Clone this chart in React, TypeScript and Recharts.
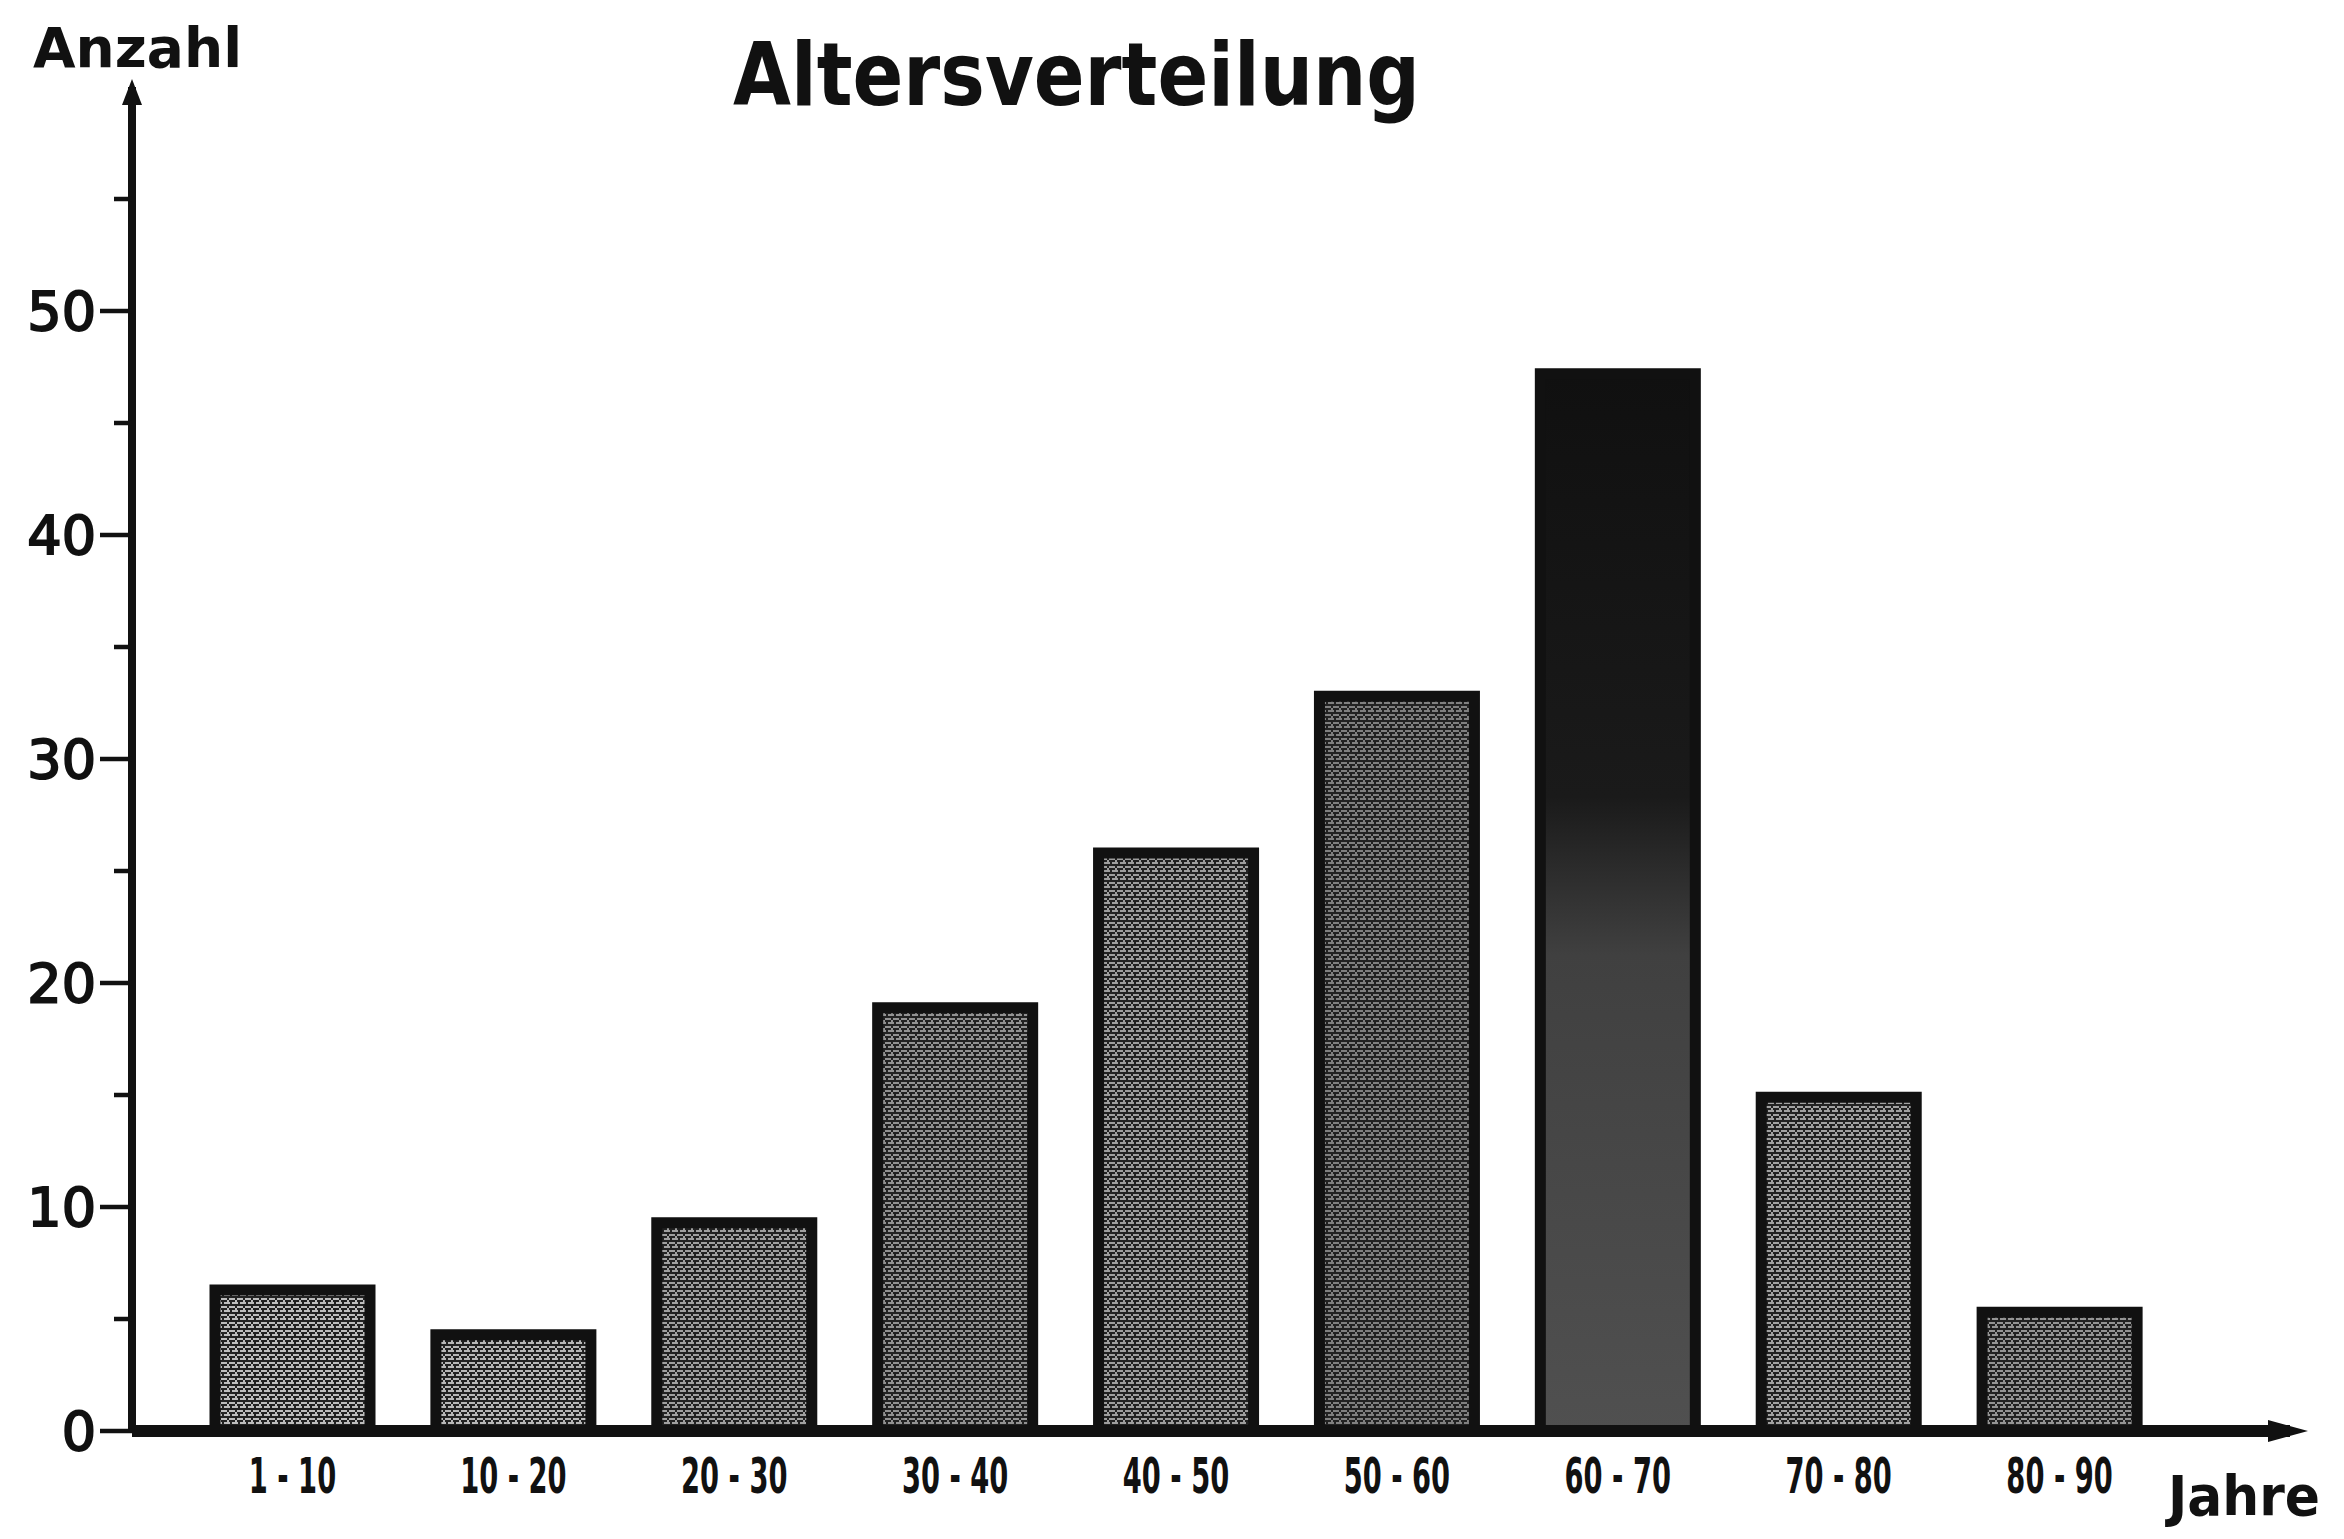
import { BarChart, Bar, XAxis, YAxis, Cell } from "recharts"

// Altersverteilung – Anzahl pro Altersgruppe
const ageGroups = ["1 - 10", "10 - 20", "20 - 30", "30 - 40", "40 - 50", "50 - 60", "60 - 70", "70 - 80", "80 - 90"]
const counts = [6.3, 4.3, 9.3, 18.9, 25.8, 32.8, 47.2, 14.9, 5.3]
const yTicks = [0, 5, 10, 15, 20, 25, 30, 35, 40, 45, 50, 55]

// halftone shades (background grey behind the black raster)
const shades = ["#bdbdbd", "#b8b8b8", "#a0a0a0", "#929292", "#9e9e9e", "#808080", "", "#a2a2a2", "#949494"]

const data = ageGroups.map((group, i) => ({ group, count: counts[i] }))

const ink = "#111"

function Halftone({ id, bg }: { id: string; bg: string }) {
  return (
    <pattern id={id} width={8} height={8} patternUnits="userSpaceOnUse">
      <rect width={8} height={8} fill={bg} />
      <rect x={0} y={0} width={8} height={2} fill="#222" />
      <rect x={0} y={4} width={3} height={2} fill="#222" />
      <rect x={5} y={4} width={3} height={2} fill="#222" />
      <rect x={3} y={2} width={2} height={2} fill="#222" />
      <rect x={6} y={6} width={2} height={2} fill="#222" />
    </pattern>
  )
}

function YTick({ x, y, payload }: any) {
  const major = payload.value % 10 === 0
  return (
    <g>
      <line x1={major ? x + 4 : x + 18} x2={x + 36} y1={y} y2={y} stroke={ink} strokeWidth={4.5} />
      {major && (
        <text x={x} y={y} dy="0.36em" textAnchor="end" fontFamily="DejaVu Sans" fontSize={54}
          fill={ink} stroke={ink} strokeWidth={2}>
          {payload.value}
        </text>
      )}
    </g>
  )
}

function XTick({ x, y, payload }: any) {
  return (
    <g transform={`translate(${x},${y})`}>
      <text transform="scale(0.62,1)" textAnchor="middle" dy="0.71em" fontFamily="DejaVu Sans Condensed"
        fontWeight="bold" fontSize={49} fill={ink}>
        {payload.value}
      </text>
    </g>
  )
}

export default function App() {
  return (
    <div style={{ position: "absolute", left: 0, top: 0, width: 2344, height: 1539, background: "#fff" }}>
      <BarChart width={2344} height={1539} data={data} margin={{ top: 87, right: 54, left: 0, bottom: 28 }}>
        <defs>
          <marker id="arrowX" markerWidth={40} markerHeight={26} refX={22} refY={13} orient="auto" markerUnits="userSpaceOnUse">
            <path d="M0,2 L40,13 L0,24 Z" fill={ink} />
          </marker>
          <marker id="arrowY" markerWidth={26} markerHeight={22} refX={18} refY={11} orient="auto-start-reverse" markerUnits="userSpaceOnUse">
            <path d="M0,1 L26,11 L0,21 Z" fill={ink} />
          </marker>
          <linearGradient id="darkBar" x1="0" y1="0" x2="0" y2="1">
            <stop offset="0" stopColor="#101010" />
            <stop offset="0.4" stopColor="#1a1a1a" />
            <stop offset="0.55" stopColor="#404040" />
            <stop offset="1" stopColor="#505050" />
          </linearGradient>
          {shades.map((bg, i) => (bg ? <Halftone key={i} id={`ht${i}`} bg={bg} /> : null))}
        </defs>
        <XAxis
          dataKey="group"
          padding={{ left: 50, right: 120 }}
          axisLine={{ stroke: ink, strokeWidth: 12, markerEnd: "url(#arrowX)" }}
          tickLine={false}
          tickSize={0}
          tickMargin={27}
          interval={0}
          height={80}
          tick={<XTick />}
        />
        <YAxis
          domain={[0, 60]}
          ticks={yTicks}
          interval={0}
          width={132}
          tickSize={32}
          tickMargin={4}
          tickLine={false}
          axisLine={{ stroke: ink, strokeWidth: 8, markerStart: "url(#arrowY)" }}
          tick={<YTick />}
        />
        <Bar dataKey="count" barSize={155} stroke={ink} strokeWidth={11} isAnimationActive={false}>
          {data.map((d, i) => (
            <Cell key={d.group} fill={shades[i] ? `url(#ht${i})` : "url(#darkBar)"} />
          ))}
        </Bar>
      </BarChart>
      <svg width={2344} height={1539} style={{ position: "absolute", left: 0, top: 0, pointerEvents: "none" }}>
        <text x={733} y={105} textLength={687} lengthAdjust="spacingAndGlyphs" fontFamily="DejaVu Sans"
          fontWeight="bold" fontSize={88} fill={ink}>
          Altersverteilung
        </text>
        <text x={33} y={67} textLength={209} lengthAdjust="spacingAndGlyphs" fontFamily="DejaVu Sans"
          fontWeight="bold" fontSize={56} fill={ink}>
          Anzahl
        </text>
        <text x={2168} y={1515} textLength={152} lengthAdjust="spacingAndGlyphs" fontFamily="DejaVu Sans"
          fontWeight="bold" fontSize={56} fill={ink}>
          Jahre
        </text>
      </svg>
    </div>
  )
}
